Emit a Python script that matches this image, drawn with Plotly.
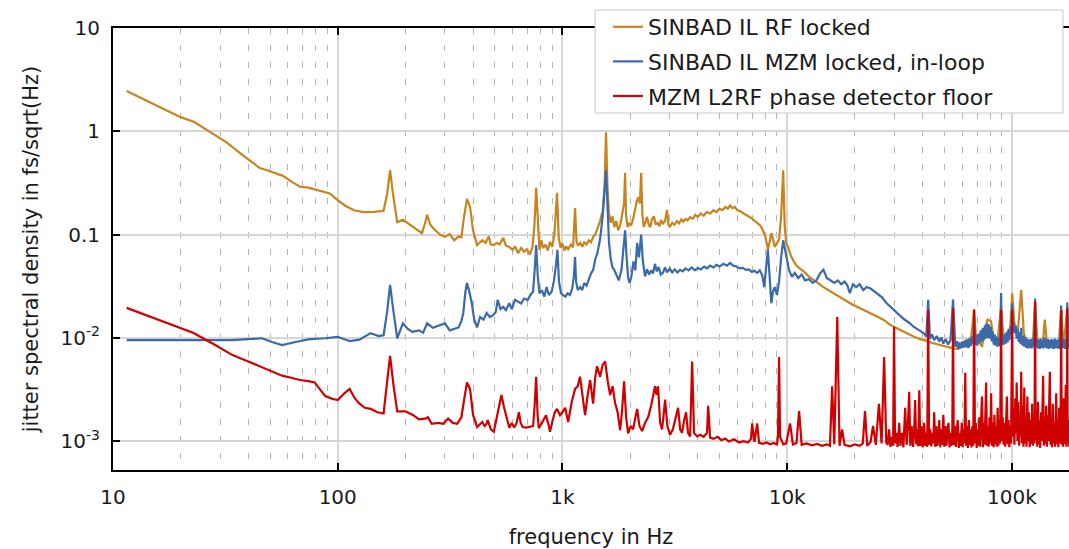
import plotly.graph_objects as go

# (frequency in Hz, jitter in fs/sqrt(Hz))
rf_locked = [
    (11.5, 2.45), (14, 2.0), (17, 1.62), (20, 1.37), (23, 1.23), (27, 0.98), (32, 0.78), (38, 0.58),
    (45, 0.44), (50, 0.41), (57, 0.37), (63, 0.32), (68, 0.29), (74, 0.285), (79, 0.275), (86, 0.26),
    (92, 0.25), (100, 0.215), (108, 0.19), (118, 0.172), (130, 0.165), (145, 0.166), (160, 0.17),
    (166, 0.25), (171, 0.42), (176, 0.25), (184, 0.132), (195, 0.139), (210, 0.124), (225, 0.11),
    (237, 0.103), (245, 0.13), (250, 0.155), (258, 0.125), (268, 0.113), (285, 0.1), (300, 0.095),
    (315, 0.101), (330, 0.088), (345, 0.096), (355, 0.094), (365, 0.15), (376, 0.221), (388, 0.185),
    (400, 0.11), (417, 0.079), (430, 0.085), (440, 0.088), (455, 0.083), (470, 0.096), (480, 0.08),
    (495, 0.079), (510, 0.083), (525, 0.08), (545, 0.093), (560, 0.078), (580, 0.076), (600, 0.071),
    (615, 0.077), (635, 0.066), (655, 0.074), (675, 0.068), (695, 0.072), (715, 0.064), (735, 0.075),
    (750, 0.12), (764, 0.283), (778, 0.11), (790, 0.071), (805, 0.088), (820, 0.074), (840, 0.08),
    (860, 0.07), (880, 0.085), (900, 0.076), (920, 0.1), (946, 0.253), (962, 0.095), (980, 0.075),
    (1000, 0.082), (1020, 0.07), (1040, 0.077), (1060, 0.072), (1090, 0.08), (1115, 0.075),
    (1138, 0.181), (1155, 0.085), (1175, 0.078), (1200, 0.083), (1225, 0.076), (1250, 0.084),
    (1280, 0.08), (1310, 0.088), (1340, 0.084), (1370, 0.095), (1400, 0.1), (1430, 0.115),
    (1470, 0.135), (1510, 0.17), (1540, 0.3), (1563, 0.98), (1585, 0.3), (1610, 0.162), (1640, 0.13),
    (1670, 0.15), (1700, 0.118), (1735, 0.135), (1770, 0.11), (1810, 0.125), (1850, 0.16), (1880, 0.2),
    (1900, 0.394), (1920, 0.15), (1950, 0.118), (1985, 0.13), (2020, 0.122), (2060, 0.14), (2100, 0.17),
    (2140, 0.21), (2180, 0.23), (2210, 0.2), (2240, 0.394), (2270, 0.15), (2300, 0.118), (2340, 0.135),
    (2380, 0.148), (2420, 0.125), (2460, 0.118), (2500, 0.14), (2550, 0.15), (2600, 0.125), (2650, 0.13),
    (2700, 0.12), (2750, 0.138), (2800, 0.128), (2860, 0.135), (2920, 0.173), (2960, 0.125),
    (3000, 0.118), (3080, 0.13), (3150, 0.124), (3230, 0.135), (3300, 0.128), (3380, 0.14),
    (3450, 0.133), (3530, 0.142), (3600, 0.137), (3700, 0.147), (3800, 0.142), (3900, 0.155),
    (4000, 0.148), (4120, 0.16), (4250, 0.152), (4380, 0.165), (4540, 0.16), (4700, 0.172),
    (4850, 0.165), (5000, 0.178), (5150, 0.172), (5300, 0.185), (5450, 0.178), (5570, 0.192),
    (5700, 0.18), (5850, 0.185), (6000, 0.172), (6200, 0.168), (6400, 0.16), (6600, 0.155),
    (6800, 0.148), (7000, 0.142), (7200, 0.135), (7400, 0.128), (7600, 0.122), (7800, 0.11),
    (8000, 0.095), (8220, 0.071), (8350, 0.085), (8500, 0.103), (8650, 0.09), (8800, 0.076),
    (9000, 0.082), (9200, 0.09), (9400, 0.15), (9600, 0.42), (9750, 0.12), (9900, 0.083),
    (10100, 0.075), (10400, 0.062), (10700, 0.055), (11000, 0.05), (11500, 0.046), (12000, 0.043),
    (12500, 0.039), (13000, 0.037), (13700, 0.034), (14500, 0.031), (15300, 0.029), (16000, 0.027),
    (17000, 0.025), (17800, 0.024), (18500, 0.0225), (19500, 0.021), (21000, 0.0195), (22500, 0.018),
    (24000, 0.0168), (25500, 0.0158), (27000, 0.0148), (28500, 0.0135), (30000, 0.0127),
    (32000, 0.0118), (34000, 0.011), (36500, 0.0103), (39000, 0.0097), (42400, 0.0093),
    (43500, 0.009), (46000, 0.0087), (49000, 0.0084), (51500, 0.0082), (54700, 0.0079),
    (57700, 0.0078), (60000, 0.0083), (62000, 0.0095), (64000, 0.008), (66000, 0.0105),
    (67900, 0.019), (69500, 0.0085), (71000, 0.0095), (73600, 0.0082), (76000, 0.0125),
    (78000, 0.015), (80800, 0.0145), (83000, 0.0095), (86000, 0.0088), (89500, 0.02), (92000, 0.0092),
    (95300, 0.0095), (98000, 0.011), (100300, 0.027), (103000, 0.012), (106000, 0.011),
    (110000, 0.029), (113000, 0.011), (116000, 0.0095), (120000, 0.0088), (124000, 0.0092),
    (126800, 0.022), (130000, 0.0088), (134000, 0.0082), (137700, 0.0095), (140000, 0.015),
    (143000, 0.009), (148000, 0.0085), (153000, 0.008), (157500, 0.0088), (161000, 0.008),
    (165600, 0.019), (170000, 0.0082), (176300, 0.02), (180000, 0.008),
]

mzm_in_loop = [
    (11.5, 0.0095), (16, 0.0095), (22, 0.0095), (28, 0.0094), (34, 0.0095), (40, 0.0097),
    (46, 0.0099), (51, 0.0091), (56.5, 0.0085), (65, 0.0091), (75, 0.0097), (88, 0.0099),
    (100, 0.0102), (107, 0.0097), (113, 0.0093), (125, 0.0096), (140, 0.0111), (152, 0.0104),
    (160, 0.0106), (166, 0.018), (171, 0.0325), (177, 0.018), (184, 0.0099), (195, 0.0138),
    (205, 0.0122), (215, 0.0114), (230, 0.0118), (240, 0.0112), (250, 0.0138), (265, 0.0125),
    (280, 0.013), (300, 0.0138), (315, 0.0118), (330, 0.0121), (345, 0.0126), (355, 0.0145),
    (362, 0.0174), (370, 0.028), (376, 0.034), (385, 0.028), (395, 0.0216), (405, 0.015),
    (417, 0.0126), (430, 0.0159), (445, 0.015), (460, 0.0174), (475, 0.0159), (490, 0.0165),
    (505, 0.0178), (515, 0.0233), (530, 0.019), (545, 0.02), (560, 0.0185), (580, 0.0216),
    (595, 0.019), (615, 0.0233), (635, 0.0225), (655, 0.0215), (675, 0.024), (700, 0.0232),
    (720, 0.026), (740, 0.028), (752, 0.045), (764, 0.079), (776, 0.04), (790, 0.027), (810, 0.029),
    (830, 0.025), (850, 0.031), (870, 0.026), (895, 0.028), (915, 0.035), (935, 0.05), (950, 0.071),
    (965, 0.035), (985, 0.027), (1005, 0.026), (1030, 0.025), (1055, 0.027), (1080, 0.026),
    (1105, 0.03), (1125, 0.04), (1138, 0.0607), (1150, 0.035), (1170, 0.029), (1200, 0.031),
    (1225, 0.029), (1250, 0.034), (1280, 0.032), (1310, 0.037), (1340, 0.042), (1370, 0.0455),
    (1400, 0.058), (1430, 0.066), (1470, 0.09), (1510, 0.15), (1540, 0.25), (1563, 0.42),
    (1585, 0.2), (1610, 0.085), (1640, 0.058), (1670, 0.048), (1700, 0.0455), (1740, 0.04),
    (1780, 0.036), (1830, 0.045), (1870, 0.07), (1900, 0.11), (1930, 0.06), (1960, 0.038),
    (1990, 0.034), (2030, 0.04), (2070, 0.055), (2110, 0.045), (2150, 0.083), (2190, 0.06),
    (2240, 0.10), (2280, 0.055), (2330, 0.0393), (2380, 0.046), (2430, 0.041), (2480, 0.045),
    (2530, 0.042), (2580, 0.052), (2630, 0.044), (2680, 0.0485), (2740, 0.041), (2800, 0.0425),
    (2860, 0.048), (2920, 0.043), (3000, 0.047), (3080, 0.043), (3160, 0.046), (3250, 0.043),
    (3340, 0.0455), (3430, 0.044), (3530, 0.047), (3640, 0.045), (3760, 0.048), (3880, 0.045),
    (4000, 0.0475), (4130, 0.046), (4270, 0.049), (4400, 0.047), (4540, 0.05), (4700, 0.048),
    (4850, 0.051), (5000, 0.049), (5200, 0.052), (5400, 0.05), (5570, 0.053), (5750, 0.05),
    (5950, 0.049), (6150, 0.047), (6350, 0.0475), (6550, 0.0455), (6750, 0.046), (6950, 0.0435),
    (7150, 0.0445), (7350, 0.0425), (7550, 0.045), (7750, 0.04), (7900, 0.031), (8050, 0.045),
    (8200, 0.071), (8350, 0.04), (8500, 0.0216), (8650, 0.028), (8800, 0.031), (9000, 0.026),
    (9200, 0.035), (9400, 0.06), (9600, 0.088), (9800, 0.07), (10000, 0.057), (10200, 0.045),
    (10500, 0.039), (10800, 0.0425), (11200, 0.038), (11600, 0.041), (12000, 0.036), (12500, 0.037),
    (13000, 0.034), (13500, 0.036), (14000, 0.042), (14500, 0.0455), (15000, 0.038), (15600, 0.036),
    (16200, 0.034), (16800, 0.036), (17400, 0.033), (18000, 0.035), (18500, 0.0325), (19000, 0.027),
    (19600, 0.033), (20300, 0.031), (21000, 0.033), (21800, 0.029), (22600, 0.031), (23500, 0.03),
    (24500, 0.028), (25500, 0.026), (26500, 0.0245), (27500, 0.022), (28500, 0.0205),
    (29900, 0.0186), (31500, 0.0168), (33000, 0.0152), (34900, 0.014), (36500, 0.0128),
    (38700, 0.0118), (40700, 0.011), (41600, 0.0103), (42400, 0.0233), (43200, 0.0098),
    (44100, 0.0108), (45100, 0.0095), (46300, 0.0104), (47500, 0.0092), (48500, 0.0101),
    (49500, 0.0088), (50700, 0.0097), (52000, 0.0086), (53300, 0.0095), (54700, 0.0235),
    (56000, 0.0082), (57000, 0.0093), (57700, 0.0078), (58500, 0.009), (59300, 0.0079),
    (60100, 0.0092), (60900, 0.008), (61700, 0.0094), (62500, 0.0081), (63300, 0.0097),
    (64100, 0.008), (64900, 0.0099), (65700, 0.0083), (66500, 0.0103), (67300, 0.0088),
    (67900, 0.015), (68600, 0.0086), (69400, 0.0106), (70200, 0.0084), (71000, 0.011),
    (71800, 0.0089), (72600, 0.0118), (73400, 0.0092), (74200, 0.0125), (75000, 0.0095),
    (75800, 0.0132), (76600, 0.0098), (77400, 0.0138), (78200, 0.01), (79000, 0.0135),
    (79800, 0.0098), (80600, 0.0128), (81400, 0.0092), (82200, 0.0115), (83000, 0.0086),
    (83800, 0.0108), (84600, 0.0084), (85400, 0.0103), (86200, 0.0082), (87000, 0.01),
    (87800, 0.0083), (88700, 0.0105), (89500, 0.0272), (90300, 0.0085), (91200, 0.0104),
    (92100, 0.0086), (93000, 0.011), (93900, 0.0088), (94800, 0.0115), (95700, 0.009),
    (96600, 0.0122), (97500, 0.0095), (98400, 0.013), (99300, 0.011), (100300, 0.0216),
    (101200, 0.0115), (102100, 0.0142), (103000, 0.011), (104000, 0.0132), (105000, 0.0098),
    (106000, 0.0122), (107000, 0.0092), (108000, 0.0114), (109000, 0.0088), (110000, 0.0125),
    (111000, 0.0085), (112200, 0.0105), (113400, 0.0082), (114600, 0.0101), (115800, 0.008),
    (117000, 0.0098), (118200, 0.0079), (119400, 0.0096), (120600, 0.008), (121800, 0.0097),
    (123000, 0.0079), (124200, 0.0099), (125400, 0.0082), (126800, 0.024), (128000, 0.0081),
    (129200, 0.0097), (130400, 0.0079), (131700, 0.0096), (133000, 0.0078), (134300, 0.0098),
    (135600, 0.008), (136900, 0.0095), (138200, 0.0079), (139500, 0.0101), (140800, 0.0081),
    (142100, 0.0096), (143400, 0.0079), (144700, 0.0097), (146000, 0.0078), (147300, 0.0095),
    (148600, 0.008), (150000, 0.0097), (151400, 0.0079), (152800, 0.0096), (154200, 0.0078),
    (155600, 0.0098), (157000, 0.008), (158400, 0.0095), (159800, 0.0079), (161200, 0.0097),
    (162600, 0.0078), (164000, 0.0096), (165600, 0.0205), (167000, 0.0079), (168400, 0.0098),
    (169800, 0.008), (171200, 0.0095), (172600, 0.0078), (174000, 0.0097), (175300, 0.008),
    (176300, 0.022), (177500, 0.0079), (178800, 0.0096), (180000, 0.0081),
]

detector_floor = [
    (11.5, 0.0195), (15, 0.0158), (18.5, 0.0133), (22.7, 0.0112), (28, 0.0087), (34, 0.0068),
    (40, 0.0059), (46, 0.0052), (51, 0.0047), (56.5, 0.0043), (62, 0.0041), (68, 0.0039),
    (74, 0.0038), (79, 0.0037), (84, 0.0031), (88, 0.00273), (94, 0.00258), (100, 0.0025),
    (107, 0.0029), (113, 0.0032), (119, 0.0026), (125, 0.0023), (132, 0.0021), (140, 0.00205),
    (150, 0.0019), (160, 0.00185), (166, 0.0038), (171, 0.0067), (177, 0.0035), (184, 0.00194),
    (200, 0.00194), (215, 0.0018), (230, 0.00162), (245, 0.00165), (252, 0.0017), (262, 0.00147),
    (280, 0.0015), (295, 0.00147), (310, 0.00165), (325, 0.0015), (340, 0.00147), (355, 0.0017),
    (366, 0.0026), (376, 0.0037), (388, 0.0032), (400, 0.0018), (417, 0.00137), (430, 0.00148),
    (440, 0.00153), (450, 0.0014), (458, 0.00145), (465, 0.0016), (480, 0.0013), (495, 0.00123),
    (510, 0.0017), (520, 0.0021), (535, 0.0028), (550, 0.0021), (565, 0.0017), (580, 0.00135),
    (595, 0.0015), (610, 0.00135), (625, 0.0015), (640, 0.0019), (652, 0.0015), (665, 0.00137),
    (690, 0.00135), (715, 0.00138), (740, 0.0014), (752, 0.0022), (764, 0.0042), (775, 0.0018),
    (785, 0.00133), (810, 0.0015), (845, 0.00178), (870, 0.0014), (880, 0.00123), (905, 0.0016),
    (925, 0.0019), (946, 0.00205), (960, 0.0019), (975, 0.00178), (1000, 0.0019), (1028, 0.0021),
    (1060, 0.00153), (1100, 0.0024), (1138, 0.0032), (1170, 0.0034), (1197, 0.0042), (1230, 0.0025),
    (1261, 0.00178), (1295, 0.0028), (1328, 0.0039), (1369, 0.0023), (1400, 0.0042), (1426, 0.0053),
    (1450, 0.0045), (1470, 0.0042), (1510, 0.0055), (1548, 0.0059), (1590, 0.0038), (1630, 0.00279),
    (1670, 0.0034), (1715, 0.00234), (1760, 0.0019), (1805, 0.00128), (1840, 0.0019), (1880, 0.0038),
    (1920, 0.0017), (1960, 0.00119), (2010, 0.0014), (2063, 0.0013), (2100, 0.0016), (2150, 0.00205),
    (2200, 0.0014), (2262, 0.00125), (2330, 0.0015), (2404, 0.0017), (2480, 0.0022), (2530, 0.0028),
    (2583, 0.0034), (2620, 0.0028), (2663, 0.0034), (2720, 0.0015), (2775, 0.0013), (2820, 0.0018),
    (2862, 0.00252), (2930, 0.0014), (3013, 0.00115), (3100, 0.0013), (3200, 0.0017), (3270, 0.0021),
    (3340, 0.0013), (3407, 0.0012), (3480, 0.0016), (3549, 0.0019), (3620, 0.0012), (3700, 0.00111),
    (3777, 0.0059), (3850, 0.0012), (3974, 0.00111), (4100, 0.00115), (4250, 0.0011), (4400, 0.0012),
    (4450, 0.0022), (4540, 0.00108), (4700, 0.00105), (4900, 0.0011), (5100, 0.00102),
    (5300, 0.00106), (5500, 0.00099), (5800, 0.00104), (6100, 0.00097), (6400, 0.001),
    (6700, 0.00097), (6900, 0.00105), (6985, 0.00148), (7150, 0.00098), (7350, 0.00148),
    (7500, 0.00096), (7800, 0.00094), (8100, 0.00097), (8400, 0.00093), (8700, 0.00096),
    (9000, 0.00093), (9100, 0.0011), (9200, 0.0065), (9300, 0.0011), (9600, 0.00093),
    (9900, 0.00095), (10300, 0.00148), (10600, 0.00093), (11000, 0.00096), (11300, 0.00195),
    (11600, 0.00092), (12200, 0.00095), (12900, 0.00091), (13600, 0.00094), (14300, 0.0009),
    (15000, 0.00093), (15500, 0.0009), (15850, 0.0034), (16200, 0.00093), (16700, 0.0159),
    (17100, 0.0009), (17550, 0.0013), (18000, 0.00092), (19000, 0.00089), (20000, 0.00093),
    (21000, 0.0009), (21700, 0.00095), (22200, 0.00195), (22700, 0.0009), (23500, 0.00098),
    (24100, 0.0014), (24800, 0.00092), (25600, 0.0023), (26300, 0.00095), (27000, 0.0065),
    (27600, 0.00097), (28000, 0.00092), (28400, 0.0013), (28800, 0.00088), (29200, 0.0011),
    (29600, 0.0009), (29900, 0.0128), (30200, 0.00095), (30600, 0.0012), (31000, 0.00088),
    (31500, 0.0015), (31900, 0.0009), (32400, 0.0012), (32900, 0.00087), (33500, 0.0021),
    (34000, 0.00092), (34400, 0.0013), (34900, 0.003), (35300, 0.0009), (35800, 0.0014),
    (36300, 0.00088), (36700, 0.0012), (37100, 0.0025), (37500, 0.00093), (37900, 0.0013),
    (38300, 0.00089), (38700, 0.0031), (39100, 0.0009), (39600, 0.0014), (40100, 0.00087),
    (40700, 0.0015), (41100, 0.0009), (41600, 0.0012), (42000, 0.00088), (42400, 0.0186),
    (42800, 0.00092), (43300, 0.0013), (43800, 0.00089), (44200, 0.0012), (44700, 0.00095),
    (45100, 0.0019), (45600, 0.00088), (46100, 0.0014), (46600, 0.0009), (47100, 0.0011),
    (47500, 0.0016), (48000, 0.00087), (48500, 0.0013), (49000, 0.00092), (49500, 0.0018),
    (50000, 0.00088), (50600, 0.0014), (51200, 0.0009), (51700, 0.0013), (52200, 0.0015),
    (52800, 0.00087), (53300, 0.0012), (53900, 0.0009), (54300, 0.0013), (54700, 0.0193),
    (55100, 0.00092), (55700, 0.0014), (56300, 0.00088), (56900, 0.0013), (57400, 0.0016),
    (58000, 0.00086), (58600, 0.0012), (59200, 0.0009), (59800, 0.0015), (60400, 0.00087),
    (61000, 0.0013), (61500, 0.00095), (62000, 0.0046), (62500, 0.0009), (63100, 0.0014),
    (63700, 0.00086), (64300, 0.0016), (64900, 0.00092), (65500, 0.0013), (66100, 0.00087),
    (66700, 0.0014), (67300, 0.0009), (67900, 0.0186), (68500, 0.00095), (69100, 0.0015),
    (69700, 0.00086), (70300, 0.0013), (71000, 0.0009), (71600, 0.0017), (72200, 0.00088),
    (72900, 0.0014), (73600, 0.0027), (74300, 0.00087), (75000, 0.0015), (75600, 0.00092),
    (76200, 0.0019), (76800, 0.0037), (77400, 0.0009), (78100, 0.0014), (78800, 0.00088),
    (79500, 0.0017), (80100, 0.00095), (80800, 0.0029), (81500, 0.0009), (82200, 0.0015),
    (82900, 0.00087), (83600, 0.0018), (84300, 0.00093), (85000, 0.0014), (85700, 0.00088),
    (86400, 0.0021), (87100, 0.0009), (87800, 0.0016), (88600, 0.00095), (89500, 0.0186),
    (90300, 0.001), (91000, 0.0017), (91800, 0.00092), (92600, 0.0015), (93400, 0.00088),
    (94200, 0.0019), (95000, 0.0027), (95800, 0.00093), (96600, 0.0016), (97400, 0.00087),
    (98200, 0.0014), (99100, 0.00095), (99700, 0.0024), (100300, 0.0186), (101000, 0.0011),
    (101800, 0.0021), (102600, 0.00092), (103500, 0.0026), (104300, 0.0012), (105000, 0.0037),
    (105800, 0.001), (106700, 0.0024), (107600, 0.0009), (108500, 0.0018), (109300, 0.0011),
    (110000, 0.0047), (110800, 0.00095), (111700, 0.0022), (112600, 0.00088), (113500, 0.0033),
    (114400, 0.00095), (115300, 0.0017), (116200, 0.00088), (117100, 0.0027), (118000, 0.001),
    (119000, 0.0019), (120000, 0.00087), (121000, 0.0016), (122000, 0.00094), (123000, 0.0023),
    (124000, 0.0009), (125000, 0.0015), (126000, 0.00095), (126800, 0.0223), (127600, 0.001),
    (128600, 0.0017), (129600, 0.00088), (130600, 0.0024), (131600, 0.00093), (132600, 0.0016),
    (133600, 0.00086), (134700, 0.0019), (135800, 0.001), (136800, 0.0026), (137700, 0.0043),
    (138700, 0.0009), (139800, 0.0017), (140900, 0.00094), (142000, 0.0022), (143100, 0.00088),
    (144200, 0.0018), (145300, 0.001), (146500, 0.0024), (147500, 0.0047), (148500, 0.00092),
    (149700, 0.0016), (150800, 0.00087), (152000, 0.0023), (153200, 0.00095), (154400, 0.0015),
    (155600, 0.00088), (156700, 0.0021), (157500, 0.0029), (158500, 0.00093), (159700, 0.0016),
    (161000, 0.00087), (162200, 0.0021), (163400, 0.00095), (164600, 0.0013), (165600, 0.0186),
    (166600, 0.00092), (167800, 0.0017), (169000, 0.00088), (170200, 0.0026), (171400, 0.00094),
    (172600, 0.0018), (173600, 0.0035), (174700, 0.00088), (175600, 0.0014), (176300, 0.0193),
    (177100, 0.00095), (178300, 0.0016), (179500, 0.00088), (180500, 0.0013),
]

x_ticks = [10, 100, 1000, 10000, 100000]
x_labels = ["10", "100", "1k", "10k", "100k"]
y_ticks = [0.001, 0.01, 0.1, 1, 10]
y_labels = ["10<sup>-3</sup>", "10<sup>-2</sup>", "0.1", "1", "10"]

series = [
    ("SINBAD IL RF locked", rf_locked, "#c8841c"),
    ("SINBAD IL MZM locked, in-loop", mzm_in_loop, "#3a6aaa"),
    ("MZM L2RF phase detector floor", detector_floor, "#d00000"),
]

fig = go.Figure()
for name, pts, color in series:
    fig.add_trace(go.Scatter(
        x=[p[0] for p in pts],
        y=[p[1] for p in pts],
        mode="lines",
        name=name,
        legendgroup=name,
        line=dict(color=color, width=2.2),
    ))

# minor (dashed) vertical grid at 2..9 of each decade
minor_x = [m * 10 ** d for d in range(1, 6) for m in range(2, 10)]

# legend frame, drawn as a shape so it can be wider than the entries
fig.add_shape(type="rect", xref="paper", yref="paper",
              x0=0.5042, x1=0.9937, y0=0.8077, y1=1.0407,
              fillcolor="white", line=dict(color="#c8c8c8", width=1), layer="above")

fig.update_layout(
    width=1069,
    height=549,
    margin=dict(l=113, r=0, t=28, b=79, autoexpand=False),
    plot_bgcolor="white",
    paper_bgcolor="white",
    font=dict(family="DejaVu Sans", size=20, color="#1a1a1a"),
    showlegend=True,
    legend=dict(
        x=0.5178, y=1.0498, xanchor="left", yanchor="top",
        bgcolor="rgba(0,0,0,0)", borderwidth=0,
        font=dict(size=22), traceorder="grouped", tracegroupgap=3,
    ),
    xaxis=dict(
        type="log",
        range=[1, 5.254],
        tickmode="array", tickvals=x_ticks, ticktext=x_labels,
        ticks="inside", ticklen=7, tickwidth=2, tickcolor="black",
        showline=True, linecolor="black", linewidth=2, mirror="ticks",
        showgrid=True, gridcolor="#d6d6d6", gridwidth=1.5, zeroline=False,
        minor=dict(tickmode="array", tickvals=minor_x, ticks="", showgrid=True,
                   gridcolor="#b4b4b4", gridwidth=1, griddash="6px,11px"),
        tickfont=dict(size=20), ticklabelstandoff=8, automargin=False,
        title=dict(text="frequency in Hz", font=dict(size=21), standoff=22),
    ),
    yaxis=dict(
        type="log",
        range=[-3.28, 1],
        tickmode="array", tickvals=y_ticks, ticktext=y_labels,
        ticks="inside", ticklen=7, tickwidth=2, tickcolor="black",
        showline=True, linecolor="black", linewidth=2,
        showgrid=True, gridcolor="#d6d6d6", gridwidth=1.5, zeroline=False,
        tickfont=dict(size=20), ticklabelstandoff=7, automargin=False,
        title=dict(text="jitter spectral density in fs/sqrt(Hz)", font=dict(size=21), standoff=16),
    ),
)

# drop the page's default body margin so the figure sits at the window's corner
fig.write_html(
    "out.html",
    config={"displayModeBar": False},
    post_script="document.body.style.margin='0';document.body.style.overflow='hidden';",
)
